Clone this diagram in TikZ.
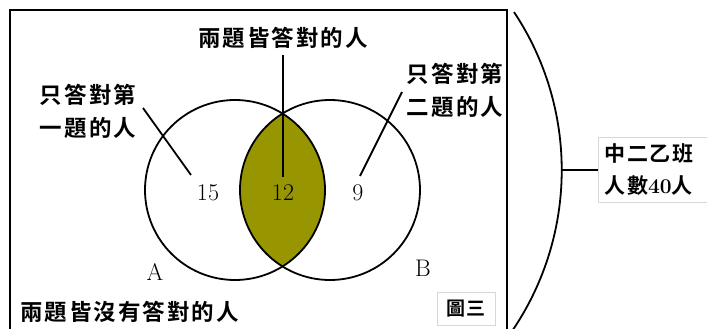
\documentclass[tikz,border=0pt]{standalone}
\usepackage{fontspec}
\newfontfamily\cjk[BoldFont={Noto Sans CJK TC Bold},LetterSpace=9]{Noto Sans CJK TC}
\newfontfamily\cjkbox[BoldFont={Noto Sans CJK TC Bold},LetterSpace=8]{Noto Sans CJK TC}
\definecolor{lensolive}{RGB}{152,150,0}
\definecolor{boxgray}{RGB}{215,215,215}
\begin{document}
\begin{tikzpicture}[x=1pt,y=-1pt,
  thickline/.style={line width=1.8pt},
  cjklabel/.style={font=\cjk\bfseries\fontsize{22.5}{33}\selectfont, inner sep=0pt, align=center},
  numlabel/.style={font=\fontsize{24}{26}\selectfont, inner sep=0pt},
  graybox/.style={draw=boxgray, line width=0.8pt, fill=white}]
\useasboundingbox (0,0) rectangle (707,329);
% frame (bottom cut off)
\draw[thickline] (10,335) -- (10,10) -- (507,10) -- (507,335);
% lens fill
\begin{scope}
  \clip (235,190) circle[radius=90];
  \fill[lensolive] (330,190) circle[radius=90];
\end{scope}
\draw[thickline] (235,190) circle[radius=90];
\draw[thickline] (330,190) circle[radius=90];
% labels
\node[cjklabel] (both) at (283,38) {兩題皆答對的人};
\node[cjklabel] (onlyA) at (88,111) {只答對第\\一題的人};
\node[cjklabel] (onlyB) at (455,90) {只答對第\\二題的人};
\node[cjklabel, anchor=west] (none) at (20,312) {兩題皆沒有答對的人};
\node[numlabel] (n15) at (208,193) {15};
\node[numlabel] (n12) at (283,193) {12};
\node[numlabel] (n9) at (358,193) {9};
\node[numlabel] (lA) at (155,272) {A};
\node[numlabel] (lB) at (423,268) {B};
% leader lines
\coordinate (bothTop) at (283,55);
\coordinate (bothEnd) at (283,177);
\coordinate (aStart) at (143,108);
\coordinate (aEnd) at (191,175);
\coordinate (bStart) at (402,92);
\coordinate (bEnd) at (360,176);
\draw[thickline] (bothTop) -- (bothEnd);
\draw[thickline] (aStart) -- (aEnd);
\draw[thickline] (bStart) -- (bEnd);
% figure label
\node[graybox, minimum width=58, minimum height=33, font=\cjkbox\bfseries\fontsize{19}{20}\selectfont] (fig) at (466,308.5) {圖三};
% brace
\draw[thickline] (514,12) arc[start angle=-33.6, end angle=34, radius=285.7];
\coordinate (apex) at (562,170);
% class box
\node[graybox, anchor=west, minimum height=65, text width=110, inner sep=0pt, align=left,
  font=\cjkbox\bfseries\fontsize{21}{32}\selectfont] (cls) at (598,170) {\hspace*{6pt}中二乙班\\\hspace*{6pt}人數{\rmfamily\bfseries 40}人};
\draw[thickline] (apex) -- (cls.west);
\end{tikzpicture}
\end{document}
